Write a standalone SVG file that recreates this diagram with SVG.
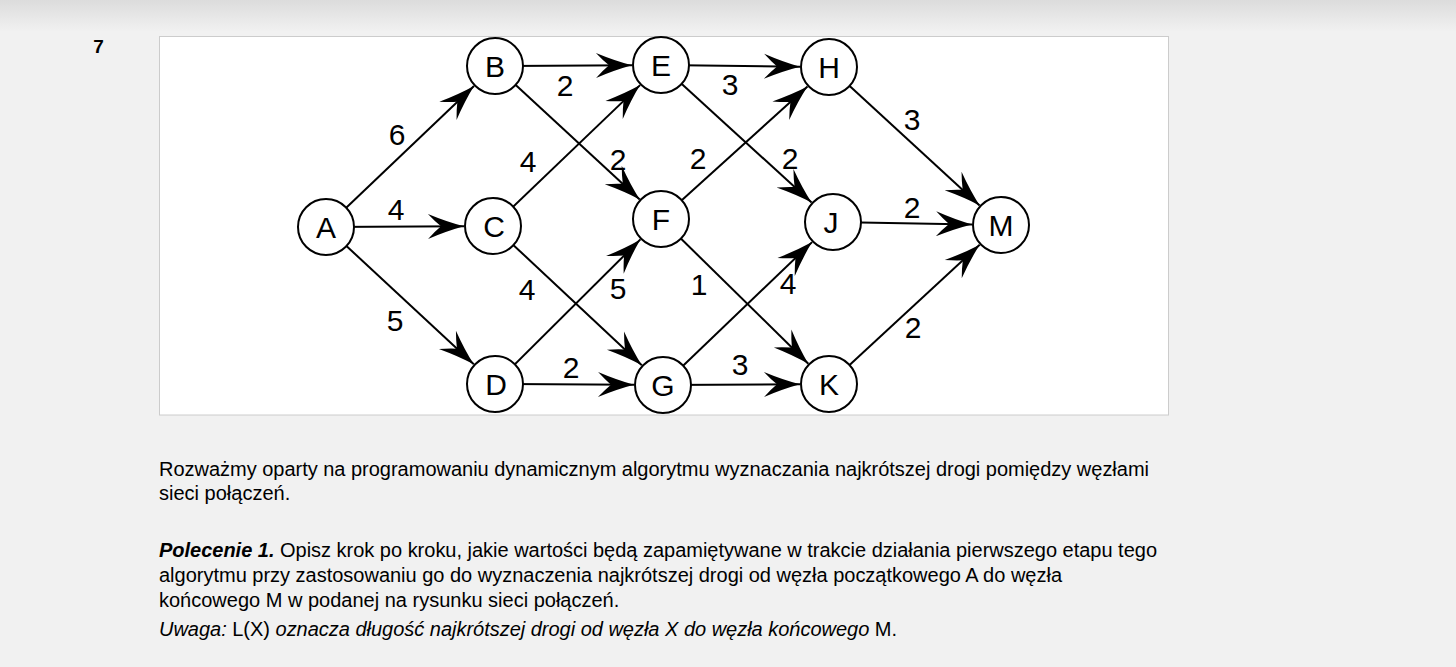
<svg xmlns="http://www.w3.org/2000/svg" width="1456" height="667" viewBox="0 0 1456 667">
<defs>
<linearGradient id="topfade" x1="0" y1="0" x2="0" y2="1">
<stop offset="0" stop-color="#dcdcdc"/>
<stop offset="1" stop-color="#f1f1f1"/>
</linearGradient>
<marker id="arr" markerUnits="userSpaceOnUse" markerWidth="40" markerHeight="30" viewBox="-38 -14 40 28" refX="0" refY="0" orient="auto">
<path d="M0,0 Q-17,-4.5 -36,-12.5 Q-29,-5 -23,0 Q-29,5 -36,12.5 Q-17,4.5 0,0 Z" fill="#000"/>
</marker>
</defs>
<style>
.node circle{fill:#fff;stroke:#000;stroke-width:2}
.node text{font-family:"Liberation Sans",Arial,sans-serif;font-size:30px;text-anchor:middle;fill:#000}
.edge line{stroke:#000;stroke-width:2;marker-end:url(#arr)}
.wt{font-family:"Liberation Sans",Arial,sans-serif;font-size:30px;text-anchor:middle;fill:#000}
.para{font-family:"Liberation Sans",Arial,sans-serif;font-size:20px;fill:#000}
.bi{font-weight:bold;font-style:italic}
.it{font-style:italic}
</style>
<rect x="0" y="0" width="1456" height="667" fill="#f1f1f1"/>
<rect x="0" y="0" width="1456" height="32" fill="url(#topfade)"/>
<text x="98.5" y="53" font-family="Liberation Sans,Arial,sans-serif" font-size="19" font-weight="bold" text-anchor="middle" fill="#000">7</text>
<rect x="159.5" y="36.5" width="1009" height="378.5" fill="#fff" stroke="#cccccc" stroke-width="1"/>

<g id="connectors" class="edge">
<line x1="326" y1="227" x2="474" y2="86"/>
<line x1="326" y1="227" x2="464" y2="226.2"/>
<line x1="326" y1="227" x2="473.8" y2="364.3"/>
<line x1="495" y1="66" x2="632" y2="65.2"/>
<line x1="495" y1="66" x2="639.7" y2="199.4"/>
<line x1="493" y1="226" x2="640.1" y2="85.1"/>
<line x1="493" y1="226" x2="641.8" y2="365.2"/>
<line x1="495" y1="384" x2="640.4" y2="239.4"/>
<line x1="495" y1="384" x2="634" y2="384.8"/>
<line x1="661" y1="65" x2="800" y2="66.7"/>
<line x1="661" y1="65" x2="811.6" y2="202.5"/>
<line x1="661" y1="219" x2="807.5" y2="86.5"/>
<line x1="661" y1="219" x2="808.3" y2="363.7"/>
<line x1="663" y1="385" x2="812.1" y2="242.1"/>
<line x1="663" y1="385" x2="800" y2="384.2"/>
<line x1="829" y1="67" x2="979.6" y2="205.4"/>
<line x1="833" y1="222" x2="972" y2="224.5"/>
<line x1="829" y1="384" x2="979.7" y2="244.7"/>
</g>

<g id="weights">
<text class="wt" x="397" y="145">6</text>
<text class="wt" x="396" y="220">4</text>
<text class="wt" x="395" y="331">5</text>
<text class="wt" x="565" y="96">2</text>
<text class="wt" x="528" y="172">4</text>
<text class="wt" x="618" y="170">2</text>
<text class="wt" x="527" y="300">4</text>
<text class="wt" x="618" y="299">5</text>
<text class="wt" x="571" y="378">2</text>
<text class="wt" x="730" y="95">3</text>
<text class="wt" x="698" y="169">2</text>
<text class="wt" x="790" y="169">2</text>
<text class="wt" x="699" y="295">1</text>
<text class="wt" x="788" y="294">4</text>
<text class="wt" x="740" y="375">3</text>
<text class="wt" x="912" y="130">3</text>
<text class="wt" x="912" y="218">2</text>
<text class="wt" x="913" y="338">2</text>
</g>

<g id="node-A" class="node"><circle cx="326" cy="227" r="28"/><text x="326" y="238">A</text></g>
<g id="node-B" class="node"><circle cx="495" cy="66" r="28"/><text x="495" y="77">B</text></g>
<g id="node-C" class="node"><circle cx="493" cy="226" r="28"/><text x="494" y="237">C</text></g>
<g id="node-D" class="node"><circle cx="495" cy="384" r="28"/><text x="496" y="395">D</text></g>
<g id="node-E" class="node"><circle cx="661" cy="65" r="28"/><text x="661" y="76">E</text></g>
<g id="node-F" class="node"><circle cx="661" cy="219" r="28"/><text x="661" y="230">F</text></g>
<g id="node-G" class="node"><circle cx="663" cy="385" r="28"/><text x="663" y="396">G</text></g>
<g id="node-H" class="node"><circle cx="829" cy="67" r="28"/><text x="829" y="78">H</text></g>
<g id="node-J" class="node"><circle cx="833" cy="222" r="28"/><text x="831" y="233">J</text></g>
<g id="node-K" class="node"><circle cx="829" cy="384" r="28"/><text x="829" y="395">K</text></g>
<g id="node-M" class="node"><circle cx="1001" cy="225" r="28"/><text x="1001" y="236">M</text></g>

<g id="description">
<text class="para" x="159" y="476" textLength="990" lengthAdjust="spacing">Rozważmy oparty na programowaniu dynamicznym algorytmu wyznaczania najkrótszej drogi pomiędzy węzłami</text>
<text class="para" x="159" y="499.5">sieci połączeń.</text>
<text class="para" x="159" y="557" textLength="998" lengthAdjust="spacing"><tspan class="bi">Polecenie 1.</tspan> Opisz krok po kroku, jakie wartości będą zapamiętywane w trakcie działania pierwszego etapu tego</text>
<text class="para" x="159" y="582" textLength="903" lengthAdjust="spacing">algorytmu przy zastosowaniu go do wyznaczenia najkrótszej drogi od węzła początkowego A do węzła</text>
<text class="para" x="159" y="607">końcowego M w podanej na rysunku sieci połączeń.</text>
<text class="para" x="159" y="636" textLength="738" lengthAdjust="spacing"><tspan class="it">Uwaga:</tspan> L(X) <tspan class="it">oznacza długość najkrótszej drogi od węzła X do węzła końcowego</tspan> M.</text>
</g>
</svg>
